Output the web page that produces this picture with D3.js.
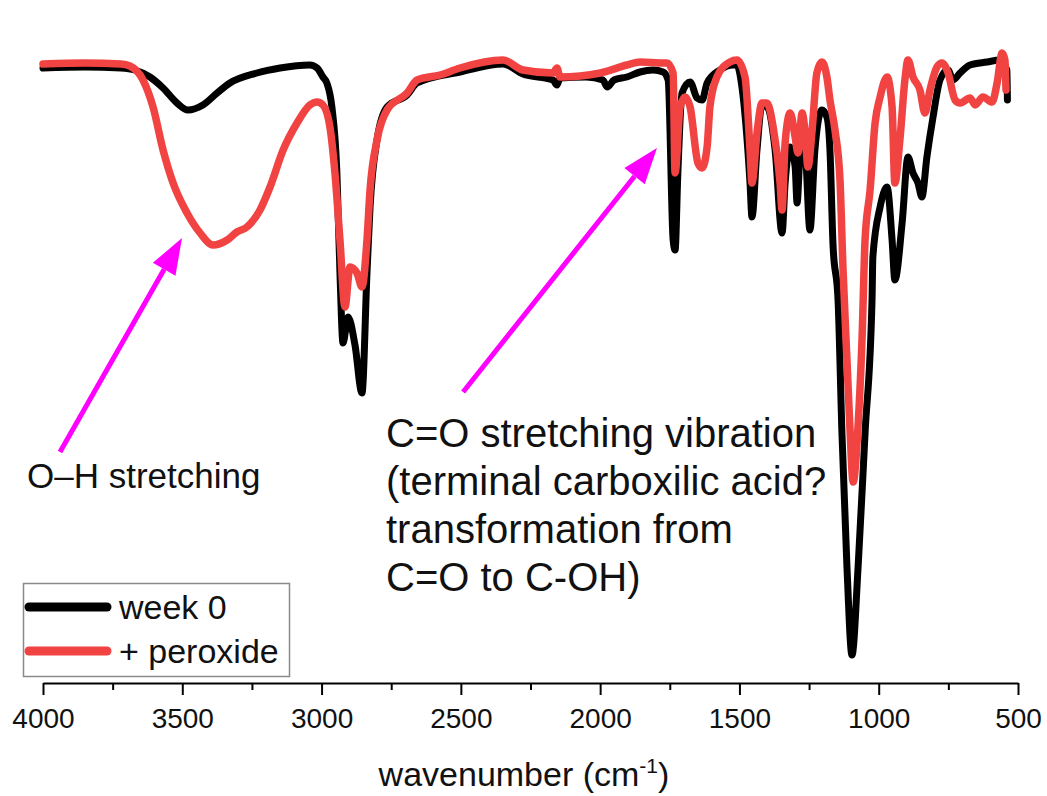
<!DOCTYPE html>
<html>
<head>
<meta charset="utf-8">
<script src="https://cdn.jsdelivr.net/npm/d3@7"></script>
<style>
  html, body { margin: 0; padding: 0; background: #ffffff; }
  svg { display: block; font-family: "Liberation Sans", Arial, Helvetica, sans-serif; }
</style>
</head>
<body>
<svg id="chart" width="1047" height="796"></svg>
<script>
// FTIR spectra (transmittance, arbitrary units) versus wavenumber in cm^-1
const week0Wavenumber = [4000,3850,3720,3670,3616,3569,3519,3480,3426,3375,3329,3232,3149,3042,3016,2995,2981,2963,2945,2934,2923,2905,2880,2855,2837,2826,2801,2765,2693,2657,2503,2349,2277,2169,2155,2144,2050,1990,1975,1950,1904,1857,1810,1774,1756,1738,1731,1721,1706,1677,1652,1634,1616,1570,1523,1509,1491,1462,1455,1437,1419,1401,1372,1347,1336,1318,1300,1293,1283,1265,1247,1229,1204,1186,1175,1164,1146,1132,1114,1096,1074,1049,1024,1021,995,970,952,942,916,895,877,859,845,827,805,780,751,733,708,672,611,565,540,538];
const week0Transmittance = [63.2,63.3,63.2,63.0,62.3,61.2,59.7,59.0,59.5,60.7,61.7,62.7,63.2,63.5,63.2,62.3,61.7,59.3,52.7,42.7,35.7,38.3,35.5,30.7,42.7,49.3,56.0,59.3,60.5,61.7,62.8,63.6,62.6,62.0,61.5,62.2,62.3,62.0,61.3,62.0,62.3,62.8,63.0,62.8,62.0,46.0,45.0,52.7,60.7,61.8,60.2,60.0,61.7,63.0,63.5,63.5,61.3,51.7,48.3,55.0,59.5,59.3,55.0,46.7,51.7,55.3,53.3,49.7,54.0,55.0,47.0,55.0,59.0,58.3,55.0,45.5,40.0,26.7,13.3,4.5,13.3,26.7,40.0,44.3,49.3,51.3,46.0,42.0,47.7,54.3,52.7,51.7,50.3,54.3,58.3,62.0,63.0,62.0,62.7,63.5,63.8,64.0,63.0,60.0];

const peroxideWavenumber = [4000,3850,3720,3688,3641,3605,3569,3533,3483,3436,3390,3339,3304,3268,3221,3185,3138,3088,3042,3016,2995,2970,2952,2934,2916,2898,2873,2855,2837,2826,2801,2765,2693,2657,2575,2503,2349,2277,2169,2155,2144,1999,1904,1857,1774,1760,1738,1731,1713,1695,1677,1649,1634,1616,1606,1581,1534,1509,1480,1462,1455,1437,1419,1401,1379,1354,1347,1336,1318,1300,1290,1275,1265,1254,1239,1222,1204,1186,1175,1157,1139,1128,1114,1103,1092,1074,1060,1049,1031,1013,995,970,952,942,924,906,895,877,852,834,816,791,773,751,726,708,672,654,626,593,575,557,547,543];
const peroxideTransmittance = [63.6,63.7,63.6,63.4,62.0,59.3,55.0,51.7,48.7,46.7,45.5,46.0,46.8,47.3,49.0,51.3,55.0,57.7,59.5,59.8,59.5,57.3,52.7,46.0,39.3,43.3,42.7,41.3,46.0,51.0,56.0,59.0,60.7,62.0,62.5,63.2,64.0,63.0,62.7,63.2,62.3,62.7,63.5,63.8,63.7,63.7,62.7,52.7,59.3,60.3,59.3,53.7,53.2,55.3,59.3,62.3,63.8,64.0,62.3,55.0,51.7,56.7,59.7,59.7,57.3,51.7,49.0,55.7,58.7,56.3,54.7,58.7,57.0,53.3,57.0,62.7,63.8,62.3,60.0,57.0,52.0,43.0,34.0,27.0,21.8,27.5,36.0,46.0,51.0,57.7,60.3,62.3,59.3,51.7,56.0,62.0,64.0,62.3,61.0,58.7,61.0,63.3,63.7,62.7,60.0,59.7,60.2,59.5,60.3,59.8,61.7,64.7,64.0,61.0];

const seriesNames = ["week 0", "+ peroxide"];
const seriesColors = ["#000000", "#f24343"];

const majorTicks = [4000, 3500, 3000, 2500, 2000, 1500, 1000, 500];
const minorTicks = [3750, 3250, 2750, 2250, 1750, 1250, 750];

// Arrows: [tail wavenumber, tail value, head wavenumber, head value]
const ohArrow = [3939, 24.8, 3501, 46.2];
const coArrow = [2492, 30.8, 1796, 55.2];

const ohLabel = ["O\u2013H stretching"];
const coLabel = ["C=O stretching vibration", "(terminal carboxilic acid?", "transformation from", "C=O to C-OH)"];

const svg = d3.select("#chart");

const x = d3.scaleLinear().domain([4000, 500]).range([43, 1018]);
const y = d3.scaleLinear().domain([0, 65]).range([700, 50]);
const axisY = 683;

// Bottom axis: major ticks with labels, then minor ticks
const axisG = svg.append("g")
  .attr("transform", `translate(0,${axisY})`)
  .call(d3.axisBottom(x).tickValues(majorTicks).tickFormat(d3.format("d"))
        .tickSize(12).tickSizeOuter(0).tickPadding(13));
axisG.select(".domain").attr("stroke", "#000").attr("stroke-width", 2);
axisG.selectAll(".tick line").attr("stroke", "#000").attr("stroke-width", 2);
axisG.selectAll(".tick text").attr("font-size", 28).attr("fill", "#111")
  .attr("font-family", "'Liberation Sans', Arial, sans-serif");

const minorG = svg.append("g")
  .attr("transform", `translate(0,${axisY})`)
  .call(d3.axisBottom(x).tickValues(minorTicks).tickFormat("").tickSize(7).tickSizeOuter(0));
minorG.select(".domain").remove();
minorG.selectAll(".tick line").attr("stroke", "#000").attr("stroke-width", 2);

// Axis title with superscript
const title = svg.append("text")
  .attr("x", 524).attr("y", 786)
  .attr("text-anchor", "middle")
  .attr("font-size", 34).attr("fill", "#111");
title.append("tspan").text("wavenumber (cm");
title.append("tspan").attr("font-size", 21).attr("dy", -13).text("-1");
title.append("tspan").attr("dy", 13).text(")");

// Spectra
const line = d3.line()
  .x(d => x(d[0]))
  .y(d => y(d[1]))
  .curve(d3.curveMonotoneX);

const week0 = week0Wavenumber.map((w, i) => [w, week0Transmittance[i]]);
const peroxide = peroxideWavenumber.map((w, i) => [w, peroxideTransmittance[i]]);

[week0, peroxide].forEach((data, i) => {
  svg.append("path")
    .datum(data)
    .attr("d", line)
    .attr("fill", "none")
    .attr("stroke", seriesColors[i])
    .attr("stroke-width", i === 0 ? 7 : 7.5)
    .attr("stroke-linejoin", "round")
    .attr("stroke-linecap", "round");
});

// Magenta arrows
function drawArrow(a) {
  const x0 = x(a[0]), y0 = y(a[1]), x1 = x(a[2]), y1 = y(a[3]);
  const ang = Math.atan2(y1 - y0, x1 - x0);
  const headLen = 36, headHalf = 13;
  const bx = x1 - headLen * Math.cos(ang), by = y1 - headLen * Math.sin(ang);
  svg.append("line")
    .attr("x1", x0).attr("y1", y0).attr("x2", bx).attr("y2", by)
    .attr("stroke", "#ff00ff").attr("stroke-width", 5);
  const px = -Math.sin(ang), py = Math.cos(ang);
  svg.append("polygon")
    .attr("points", [
      [x1, y1],
      [bx + headHalf * px, by + headHalf * py],
      [bx - headHalf * px, by - headHalf * py]
    ].map(p => p.join(",")).join(" "))
    .attr("fill", "#ff00ff");
}
drawArrow(ohArrow);
drawArrow(coArrow);

// Annotation texts
svg.append("text").attr("x", 27).attr("y", 488)
  .attr("font-size", 35).attr("fill", "#111").text(ohLabel[0]);

const coText = svg.append("text").attr("font-size", 40).attr("fill", "#111");
coLabel.forEach((t, i) => {
  coText.append("tspan").attr("x", 386).attr("y", 447 + i * 48).text(t);
});

// Legend
const legend = svg.append("g");
legend.append("rect")
  .attr("x", 23.5).attr("y", 583.5).attr("width", 266).attr("height", 93)
  .attr("fill", "#fff").attr("stroke", "#8a8a8a").attr("stroke-width", 1.5);
seriesNames.forEach((name, i) => {
  const ly = 607 + i * 44;
  legend.append("line")
    .attr("x1", 29).attr("x2", 107).attr("y1", ly).attr("y2", ly)
    .attr("stroke", seriesColors[i]).attr("stroke-width", 9)
    .attr("stroke-linecap", "round");
  legend.append("text")
    .attr("x", 119).attr("y", ly + 12)
    .attr("font-size", 34).attr("fill", "#111").text(name);
});
</script>
</body>
</html>
